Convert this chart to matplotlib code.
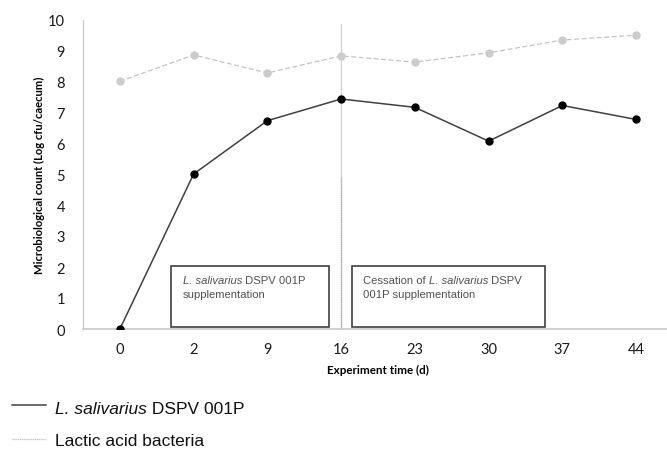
import matplotlib.pyplot as plt
from matplotlib.patches import Rectangle
from matplotlib.lines import Line2D
from matplotlib.transforms import IdentityTransform

days = ['0', '2', '9', '16', '23', '30', '37', '44']
salivarius = [0.0, 5.0, 6.72, 7.42, 7.15, 6.06, 7.21, 6.76]
lactic = [7.99, 8.84, 8.26, 8.81, 8.61, 8.91, 9.32, 9.48]
yticks = [0, 1, 2, 3, 4, 5, 6, 7, 8, 9, 10]

W, H = 667, 452
fig = plt.figure(figsize=(W / 100, H / 100), dpi=100)
ax = fig.add_axes([83 / W, 122 / H, 590 / W, 310 / H])
renderer = fig.canvas.get_renderer()


def runs(px, py, parts, **kw):
    # write pieces of text one after another (mixed italic / normal), px,py in pixels from top-left
    x0 = px
    for s, style in parts:
        t = fig.text(x0, H - py, s, transform=IdentityTransform(), fontstyle=style, **kw)
        x0 = t.get_window_extent(renderer).x1


x = list(range(len(days)))

# lactic acid bacteria (light dashed)
ax.plot(x, lactic, color='#c4c4c4', linestyle=(0, (4, 2)), linewidth=0.9,
        marker='o', markersize=5, markerfacecolor='#cccccc', markeredgecolor='#cccccc', zorder=3)
# L. salivarius
ax.plot(x, salivarius, color='#404040', linewidth=1.1,
        marker='o', markersize=5, markerfacecolor='black', markeredgecolor='black', zorder=4)

# separation line at day 16
ax.plot([3, 3], [0, 9.85], color='#d0d0d0', linewidth=0.9, zorder=2)
ax.plot([3, 3], [0, 4.9], color='#b0b0b0', linewidth=1.0, linestyle=(0, (1, 0.6)), zorder=2)

# text boxes
ax.add_patch(Rectangle((0.69, 0.06), 2.15, 1.98, fill=False, edgecolor='#404040', linewidth=1.2, zorder=5))
ax.add_patch(Rectangle((3.15, 0.06), 2.62, 1.98, fill=False, edgecolor='#404040', linewidth=1.2, zorder=5))
bfont = dict(family='Liberation Sans', fontsize=8.1, color='#505050', va='baseline')
runs(183, 284, [('L. salivarius', 'italic'), (' DSPV 001P', 'normal')], **bfont)
runs(183, 298, [('supplementation', 'normal')], **bfont)
runs(363, 284, [('Cessation of ', 'normal'), ('L. salivarius', 'italic'), (' DSPV', 'normal')], **bfont)
runs(363, 298, [('001P supplementation', 'normal')], **bfont)

ax.set_xlim(-0.5, 7.5)
ax.set_ylim(0, 10)
ax.set_xticks(x)
ax.set_xticklabels(days)
ax.set_yticks(yticks)
ax.tick_params(length=0, labelsize=10.5, colors='#1a1a1a', pad=9)
for lab in ax.get_xticklabels() + ax.get_yticklabels():
    lab.set_family('Lato')
ax.tick_params(axis='y', pad=13)

for s in ['top', 'right']:
    ax.spines[s].set_visible(False)
ax.spines['left'].set_color('#c8c8c8')
ax.spines['left'].set_linestyle((0, (1, 1)))
ax.spines['left'].set_linewidth(0.9)
ax.spines['bottom'].set_color('#c8c8c8')
ax.spines['bottom'].set_linewidth(1.2)

ax.set_xlabel('Experiment time (d)', family='Lato', fontweight='bold', fontsize=8.4, labelpad=6)
ax.set_ylabel('Microbiological count (Log cfu/caecum)', family='Lato', fontweight='bold', fontsize=8.1,
              labelpad=2)

# legend below the plot
fig.add_artist(Line2D([12 / W, 46 / W], [1 - 406 / H] * 2, color='#404040', linewidth=1.1))
fig.add_artist(Line2D([12 / W, 46 / W], [1 - 440 / H] * 2, color='#c4c4c4', linewidth=0.9,
                      linestyle=(0, (1, 0.5))))
lfont = dict(family='Liberation Sans', fontsize=12.5, color='#111111', va='baseline')
runs(55, 414, [('L. salivarius', 'italic'), (' DSPV 001P', 'normal')], **lfont)
runs(55, 446, [('Lactic acid bacteria', 'normal')], **lfont)

fig.savefig('out.png', dpi=100)
